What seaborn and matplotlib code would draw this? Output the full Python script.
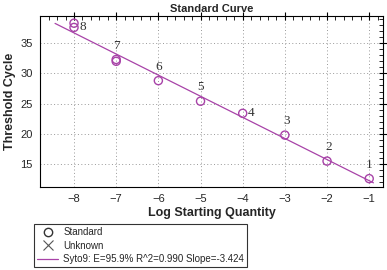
import numpy as np
import matplotlib
matplotlib.use("Agg")
import matplotlib.pyplot as plt
from matplotlib.lines import Line2D
from matplotlib.ticker import MultipleLocator
import seaborn as sns
import pandas as pd

# standard curve data
log_qty = [-8, -8, -7, -7, -6, -5, -4, -3, -2, -1]
ct = [38.3, 37.6, 32.3, 32.0, 28.8, 25.4, 23.4, 19.8, 15.5, 12.6]
point_labels = ["8", "", "7", "", "6", "5", "4", "3", "2", "1"]
legend_fit = "Syto9: E=95.9% R^2=0.990 Slope=-3.424"

purple = "#a843a8"

sns.set_theme(style="white")
plt.rcParams['font.family'] = ['Liberation Sans', 'DejaVu Sans']

fig = plt.figure(figsize=(3.87, 2.70), dpi=100)
ax = fig.add_axes([0.103, 0.307, 0.887, 0.634])

df = pd.DataFrame({"x": log_qty, "y": ct})
sns.scatterplot(data=df, x="x", y="y", ax=ax, marker="o", s=34,
                facecolors="none", edgecolor=purple, linewidth=1.0, zorder=3)

# fitted line
slope, icpt = np.polyfit(log_qty, ct, 1)
fx = np.array([-8.45, -0.9])
fit = pd.DataFrame({"x": fx, "y": slope * fx + icpt})
sns.lineplot(data=fit, x="x", y="y", ax=ax, color=purple, lw=0.9, zorder=2)

# label offsets (dx, dy)
offs = {"8": (0.13, -0.6), "7": (0.0, 1.3), "6": (0.0, 1.2), "5": (0.0, 1.3),
        "4": (0.12, 0.0), "3": (0.05, 1.3), "2": (0.05, 1.3), "1": (0.0, 1.3)}
for x, y, lab in zip(log_qty, ct, point_labels):
    if lab:
        dx, dy = offs[lab]
        ax.text(x + dx, y + dy, lab, fontsize=9.5, family="Liberation Serif",
                color="#333333", ha="left" if lab in "84" else "center",
                va="bottom" if lab not in "84" else "center")

ax.set_xlim(-8.81, -0.67)
ax.set_ylim(11.2, 39.5)
ax.xaxis.set_major_locator(MultipleLocator(1))
ax.xaxis.set_minor_locator(MultipleLocator(0.2))
ax.yaxis.set_major_locator(MultipleLocator(5))
ax.yaxis.set_minor_locator(MultipleLocator(1))
ax.tick_params(which="major", direction="inout", length=6, width=0.8,
               top=True, right=True, labelsize=8, pad=2, color="black")
ax.tick_params(which="minor", direction="in", length=3, width=0.6,
               top=True, right=True, color="black")
ax.grid(True, which="major", ls=(0, (1, 2.5)), color="#999999", lw=0.7)
for s in ax.spines.values():
    s.set_color("black")
    s.set_linewidth(0.8)

ax.set_title("Standard Curve", fontsize=8, fontweight="bold", pad=3)
ax.set_xlabel("Log Starting Quantity", fontsize=9, fontweight="bold", labelpad=2)
ax.set_ylabel("Threshold Cycle", fontsize=9, fontweight="bold", labelpad=3)

handles = [
    Line2D([], [], ls="none", marker="o", mfc="none", mec="#333333", ms=6),
    Line2D([], [], ls="none", marker="x", color="#555555", ms=7, mew=0.8),
    Line2D([], [], color=purple, lw=0.9),
]
leg = fig.legend(handles, ["Standard", "Unknown", legend_fit],
                 loc="lower left", bbox_to_anchor=(0.088, 0.011),
                 fontsize=7, frameon=True, fancybox=False, edgecolor="black",
                 borderpad=0.3, labelspacing=0.35, handlelength=2.2,
                 handletextpad=0.5, borderaxespad=0)
leg.get_frame().set_linewidth(0.8)

fig.savefig("out.png", dpi=100)
